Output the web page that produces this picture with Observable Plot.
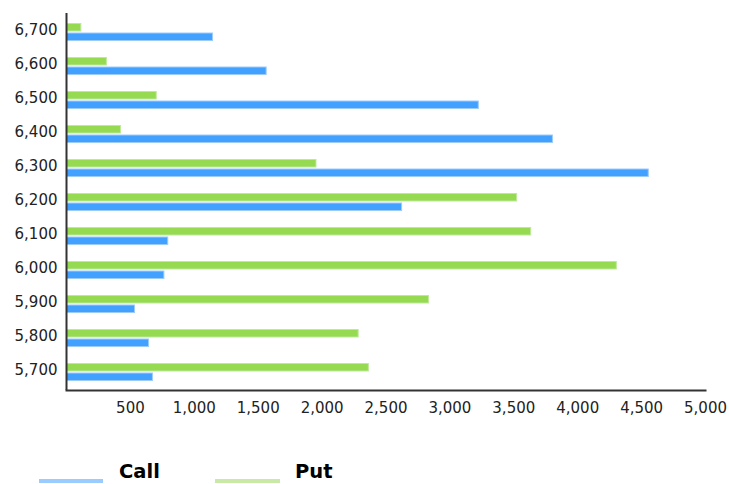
<!DOCTYPE html>
<html>
<head>
<meta charset="utf-8">
<script src="https://cdn.jsdelivr.net/npm/d3@7"></script>
<script src="https://cdn.jsdelivr.net/npm/@observablehq/plot@0.6"></script>
<style>
  html, body { margin: 0; padding: 0; background: #fff; overflow: hidden; }
  #wrap { position: relative; width: 729px; height: 484px; }
  .sw { position: absolute; height: 4px; top: 479px; }
  .lab { position: absolute; top: 462px; font: bold 19.5px "DejaVu Sans", sans-serif; line-height: 1; color: #000; }
</style>
</head>
<body>
<div id="wrap">
  <div id="chart"></div>
  <div class="sw" style="left:39px;width:64px;background:#99ccff"></div>
  <div class="lab" style="left:119px">Call</div>
  <div class="sw" style="left:215px;width:65px;background:#c9eaa7"></div>
  <div class="lab" style="left:295px">Put</div>
</div>
<script>
const strikes = [5700, 5800, 5900, 6000, 6100, 6200, 6300, 6400, 6500, 6600, 6700];
const callValues = [680, 650, 540, 770, 800, 2630, 4560, 3810, 3230, 1570, 1150];
const putValues = [2370, 2290, 2840, 4310, 3640, 3530, 1960, 430, 710, 320, 120];
const xTicks = [500, 1000, 1500, 2000, 2500, 3000, 3500, 4000, 4500, 5000];

const data = strikes.map((s, i) => ({strike: s, call: callValues[i], put: putValues[i]}));
const fmt = d3.format(",");

const chart = Plot.plot({
  width: 729,
  height: 440,
  marginLeft: 66,
  marginRight: 24,
  marginTop: 13,
  marginBottom: 50,
  style: {fontFamily: "'DejaVu Sans', sans-serif", fontSize: "15px", color: "#222", background: "#fff"},
  x: {domain: [0, 5000], axis: null},
  y: {domain: strikes.slice().reverse(), padding: 0, axis: null},
  marks: [
    Plot.barX(data, {y: "strike", x: "put", fill: "#96da52", stroke: "#bfe99a", strokeWidth: 1, insetTop: 8.5, insetBottom: 18, insetLeft: 0.5, insetRight: 0.5}),
    Plot.barX(data, {y: "strike", x: "call", fill: "#42a0ff", stroke: "#9ccbff", strokeWidth: 1, insetTop: 18, insetBottom: 8.5, insetLeft: 0.5, insetRight: 0.5}),
    Plot.axisX({ticks: xTicks, tickFormat: fmt, tickSize: 0, tickPadding: 12, label: null}),
    Plot.axisY({tickFormat: fmt, tickSize: 0, tickPadding: 9, dy: -2, label: null}),
    Plot.frame({anchor: "bottom", stroke: "#333", strokeWidth: 2}),
    Plot.ruleX([0], {stroke: "#333", strokeWidth: 2})
  ]
});
document.getElementById("chart").appendChild(chart);
</script>
</body>
</html>
